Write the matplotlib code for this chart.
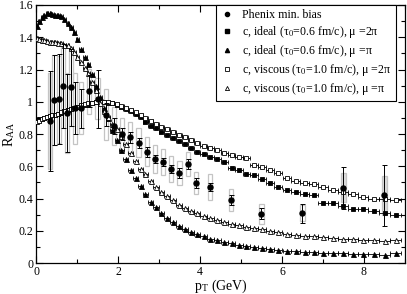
import numpy as np
import matplotlib
matplotlib.use("Agg")
import matplotlib.pyplot as plt
from matplotlib.patches import Rectangle
from matplotlib.lines import Line2D

plt.rcParams['font.family'] = ['Liberation Serif', 'DejaVu Serif']
plt.rcParams['mathtext.fontset'] = 'stix'

# ---------------- data ----------------
phenix_pt = [0.35, 0.45, 0.55, 0.65, 0.75, 0.85, 0.95, 1.1, 1.3, 1.5, 1.7, 1.9, 2.1, 2.3,
             2.5, 2.7, 2.9, 3.1, 3.3, 3.5, 3.7, 3.9, 4.25, 4.75, 5.5, 6.5, 7.5, 8.5]
phenix_raa = [0.88, 1.01, 1.015, 1.10, 0.93, 1.09, 0.96, 0.96, 1.065, 1.02, 0.92, 0.85, 0.80, 0.78,
              0.745, 0.69, 0.645, 0.625, 0.585, 0.56, 0.615, 0.495, 0.473, 0.39, 0.305, 0.308, 0.467, 0.42]
phenix_stat = [0.31, 0.28, 0.28, 0.26, 0.24, 0.24, 0.16, 0.12, 0.10, 0.18, 0.07, 0.05, 0.04, 0.035,
               0.03, 0.03, 0.025, 0.025, 0.025, 0.03, 0.03, 0.03, 0.025, 0.03, 0.035, 0.06, 0.13, 0.19]
phenix_sys = [0.30, 0.28, 0.27, 0.26, 0.25, 0.24, 0.22, 0.16, 0.14, 0.13, 0.16, 0.12, 0.10, 0.095,
              0.09, 0.09, 0.085, 0.08, 0.08, 0.075, 0.075, 0.07, 0.08, 0.07, 0.06, 0.05, 0.09, 0.12]

model_pt = [0.02, 0.08, 0.14, 0.20, 0.27, 0.33, 0.40, 0.47, 0.54, 0.62, 0.69, 0.77, 0.85, 0.93,
            1.01, 1.10, 1.19, 1.28, 1.37, 1.46, 1.56, 1.66, 1.76, 1.86, 1.97, 2.08, 2.19, 2.31,
            2.43, 2.55, 2.67, 2.80, 2.93, 3.06, 3.20, 3.34, 3.48, 3.63, 3.78, 3.93, 4.09, 4.25,
            4.42, 4.59, 4.77, 4.95, 5.13, 5.32, 5.51, 5.71, 5.91, 6.12, 6.33, 6.55, 6.77, 7.00,
            7.24, 7.48, 7.73, 7.98, 8.24, 8.51, 8.78]

ideal_2pi = [0.885, 0.89, 0.895, 0.90, 0.905, 0.91, 0.915, 0.918, 0.925, 0.932, 0.94, 0.948, 0.955, 0.962,
             0.968, 0.975, 0.982, 0.988, 0.993, 0.997, 1.0, 0.998, 0.995, 0.99, 0.982, 0.97, 0.958, 0.94,
             0.925, 0.905, 0.875, 0.85, 0.835, 0.815, 0.795, 0.775, 0.755, 0.735, 0.715, 0.69, 0.675, 0.66,
             0.645, 0.625, 0.59, 0.575, 0.555, 0.545, 0.52, 0.495, 0.47, 0.455, 0.44, 0.43, 0.42, 0.37,
             0.372, 0.355, 0.338, 0.335, 0.322, 0.31, 0.298]

ideal_pi = [1.47, 1.50, 1.525, 1.54, 1.548, 1.55, 1.545, 1.54, 1.535, 1.53, 1.515, 1.49, 1.465, 1.43,
            1.39, 1.33, 1.275, 1.235, 1.17, 1.10, 1.03, 0.96, 0.90, 0.825, 0.765, 0.70, 0.645, 0.577,
            0.525, 0.475, 0.43, 0.38, 0.345, 0.31, 0.28, 0.255, 0.232, 0.212, 0.195, 0.18, 0.165, 0.152,
            0.14, 0.13, 0.122, 0.113, 0.106, 0.100, 0.094, 0.088, 0.082, 0.077, 0.072, 0.069, 0.067, 0.064,
            0.062, 0.060, 0.057, 0.055, 0.053, 0.050, 0.060]

visc_2pi = [0.875, 0.88, 0.89, 0.898, 0.905, 0.91, 0.915, 0.92, 0.927, 0.935, 0.942, 0.95, 0.957, 0.963,
            0.97, 0.977, 0.984, 0.99, 0.995, 0.998, 1.0, 0.999, 0.996, 0.992, 0.985, 0.975, 0.962, 0.95,
            0.935, 0.92, 0.90, 0.88, 0.86, 0.845, 0.83, 0.815, 0.795, 0.78, 0.765, 0.745, 0.728, 0.715,
            0.70, 0.685, 0.67, 0.66, 0.65, 0.61, 0.595, 0.575, 0.56, 0.525, 0.51, 0.495, 0.49, 0.47,
            0.455, 0.442, 0.43, 0.41, 0.40, 0.395, 0.39]

visc_pi = [1.395, 1.39, 1.385, 1.38, 1.378, 1.372, 1.37, 1.368, 1.366, 1.362, 1.355, 1.35, 1.335, 1.31,
           1.275, 1.245, 1.21, 1.18, 1.12, 1.07, 0.99, 0.945, 0.905, 0.86, 0.83, 0.79, 0.735, 0.68,
           0.63, 0.585, 0.55, 0.51, 0.47, 0.44, 0.418, 0.39, 0.36, 0.34, 0.325, 0.31, 0.292, 0.28,
           0.268, 0.256, 0.245, 0.236, 0.226, 0.216, 0.208, 0.198, 0.19, 0.182, 0.175, 0.17, 0.165, 0.16,
           0.156, 0.152, 0.148, 0.145, 0.142, 0.138, 0.142]

labels = ["Phenix min. bias",
          "c, ideal (τ$_0$=0.6 fm/c), μ =2π",
          "c, ideal (τ$_0$=0.6 fm/c), μ =π",
          "c, viscous (τ$_0$=1.0 fm/c), μ =2π",
          "c, viscous (τ$_0$=1.0 fm/c), μ =π"]

# ---------------- figure ----------------
fig = plt.figure(figsize=(4.07, 2.94), dpi=100)
ax = fig.add_axes([0.0885, 0.1054, 0.9065, 0.8776])

# systematic boxes
filled_box = {0.35, 7.5, 8.5}
for x, y, s in zip(phenix_pt, phenix_raa, phenix_sys):
    fc = '#dcdcdc' if x in filled_box else 'none'
    ax.add_patch(Rectangle((x - 0.05, y - s), 0.10, 2 * s, facecolor=fc,
                           edgecolor='#c4c4c4', linewidth=0.9, zorder=1))

mpt = np.array(model_pt)
xerr = np.gradient(mpt) / 2.0

common = dict(xerr=xerr, ls='none', ecolor='black', elinewidth=0.6, capsize=1.3,
              capthick=0.6, mec='black', mew=0.6, zorder=3)
ax.errorbar(mpt, ideal_2pi, marker='s', ms=3.0, mfc='black', **common)
ax.errorbar(mpt, ideal_pi, marker='^', ms=3.6, mfc='black', **common)
ax.errorbar(mpt, visc_2pi, marker='s', ms=3.0, mfc='white', **common)
ax.errorbar(mpt, visc_pi, marker='^', ms=3.6, mfc='white', **common)

ax.errorbar(phenix_pt, phenix_raa, yerr=phenix_stat, marker='o', ms=3.6, ls='none',
            color='black', ecolor='black', elinewidth=0.7, capsize=1.8, capthick=0.7, zorder=4)

ax.set_xlim(0, 9)
ax.set_ylim(0, 1.6)
ax.set_xticks([0, 2, 4, 6, 8])
ax.set_xticks([1, 3, 5, 7, 9], minor=True)
ax.set_yticks([0, 0.2, 0.4, 0.6, 0.8, 1.0, 1.2, 1.4, 1.6])
ax.set_yticklabels(['0', '0.2', '0.4', '0.6', '0.8', '1', '1.2', '1.4', '1.6'])
ax.set_yticks(np.arange(0.1, 1.6, 0.2), minor=True)
ax.tick_params(which='both', direction='in', top=True, right=True, labelsize=8.5, width=0.8)
ax.tick_params(which='major', length=5, pad=2)
ax.tick_params(which='minor', length=3)
for sp in ax.spines.values():
    sp.set_linewidth(0.9)

ax.set_xlabel(r"p$_\mathregular{T}$ (GeV)", fontsize=10, labelpad=0)
ax.set_ylabel(r"R$_\mathregular{AA}$", fontsize=10, labelpad=1)

handles = [
    Line2D([], [], ls='none', marker='o', ms=3, mfc='black', mec='black'),
    Line2D([], [], ls='none', marker='s', ms=2.6, mfc='black', mec='black'),
    Line2D([], [], ls='none', marker='^', ms=3, mfc='black', mec='black'),
    Line2D([], [], ls='none', marker='s', ms=2.6, mfc='white', mec='black', mew=0.6),
    Line2D([], [], ls='none', marker='^', ms=3, mfc='white', mec='black', mew=0.6),
]
leg = ax.legend(handles, labels, loc='upper right', bbox_to_anchor=(0.975, 1.0),
                fontsize=8.6, frameon=True, fancybox=False, edgecolor='black',
                framealpha=1, borderpad=0.35, labelspacing=0.25, handlelength=1.1,
                handletextpad=0.75, borderaxespad=0)
leg.get_frame().set_linewidth(0.8)
leg.set_zorder(10)

fig.savefig("out.png", dpi=100)
